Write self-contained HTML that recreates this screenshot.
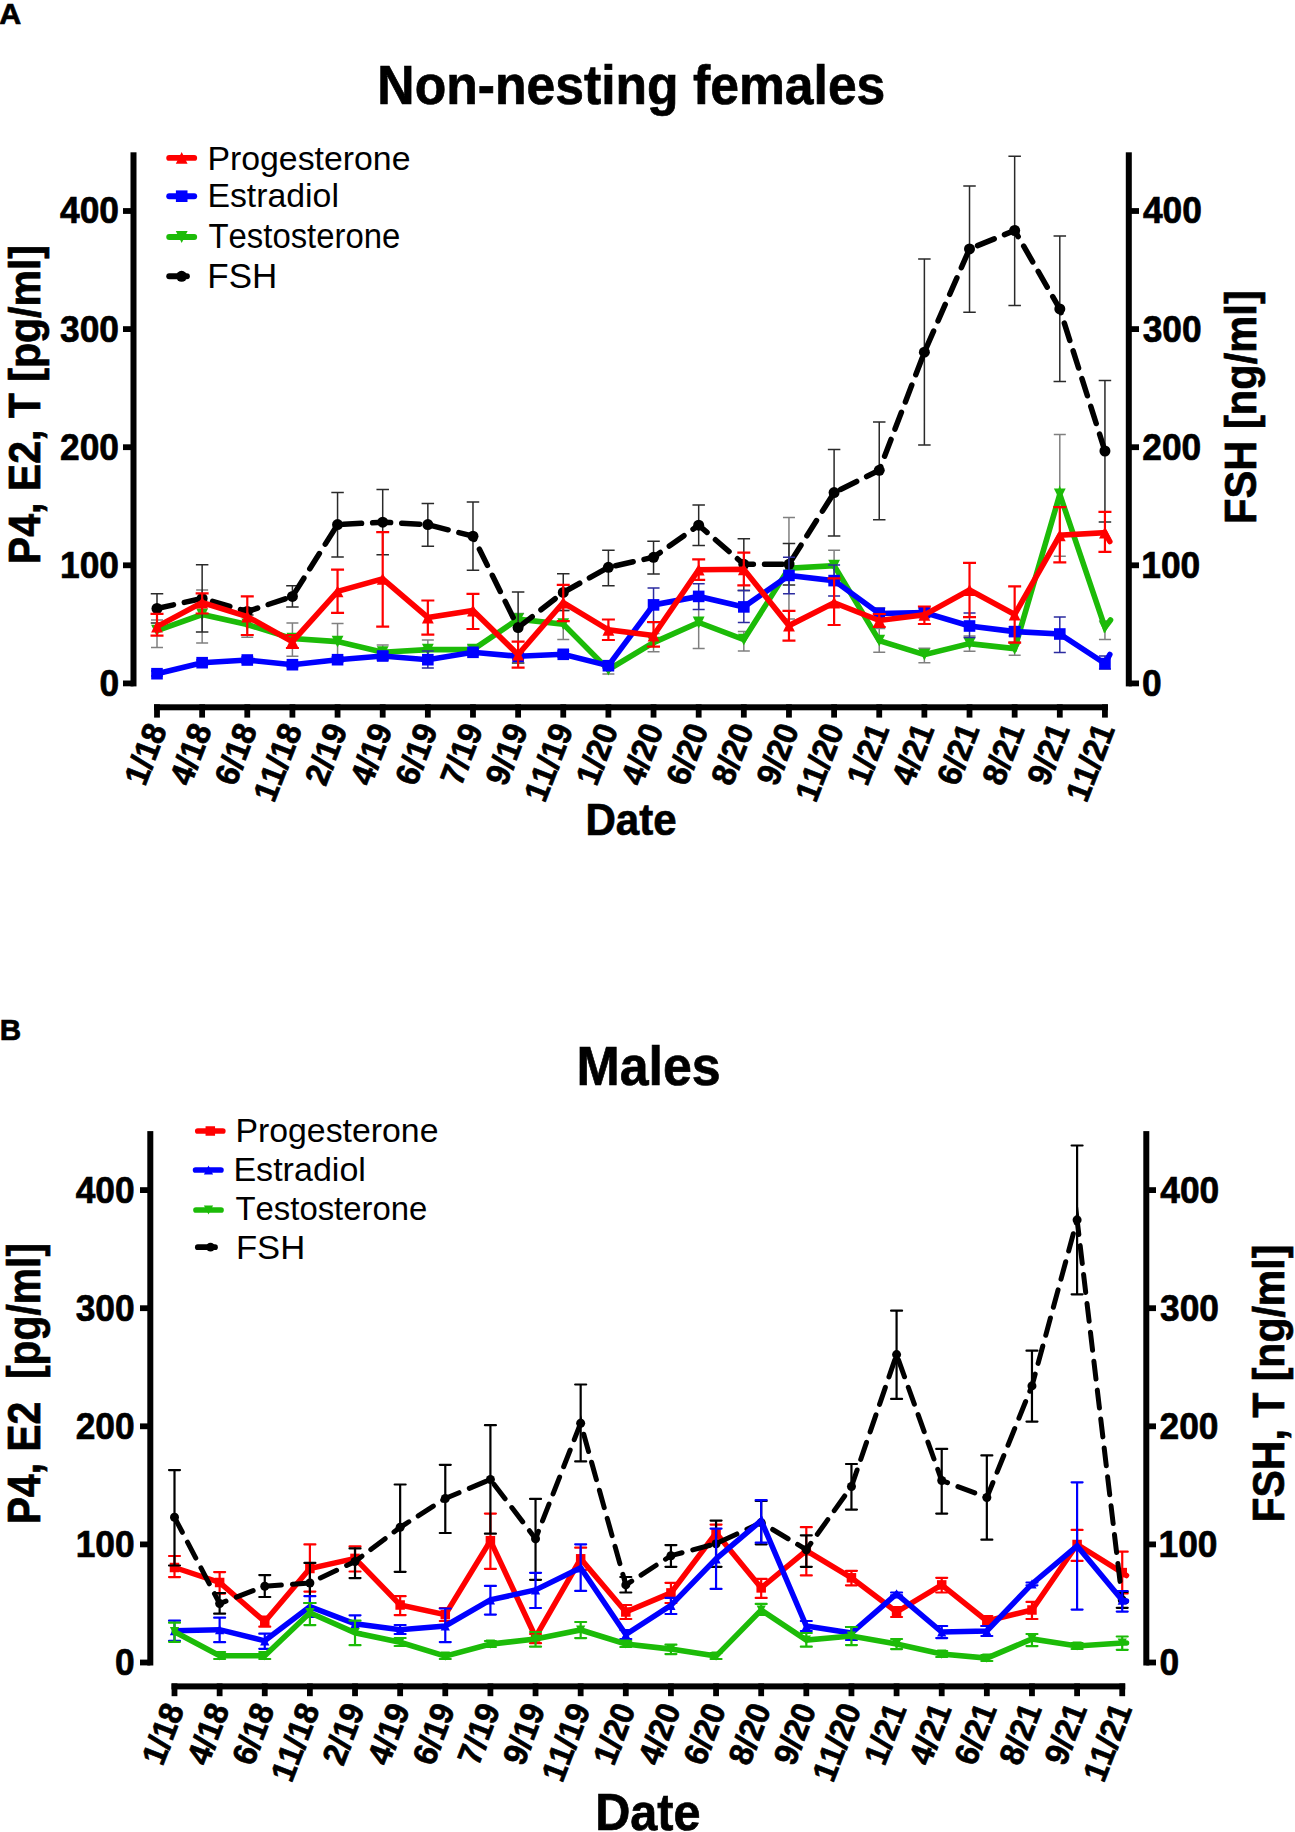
<!DOCTYPE html>
<html><head><meta charset="utf-8"><style>
html,body{margin:0;padding:0;background:#fff;}
svg{display:block;font-family:"Liberation Sans",sans-serif;}
text[font-weight="bold"]{stroke:#000;stroke-width:0.7px;}
text{font-kerning:none;}
</style></head><body>
<svg width="1295" height="1832" viewBox="0 0 1295 1832">
<rect width="1295" height="1832" fill="#fff"/>
<rect x="130.50" y="152.30" width="6" height="534.10" fill="#000"/>
<rect x="1125.80" y="152.30" width="6" height="534.10" fill="#000"/>
<rect x="123.00" y="680.50" width="10.50" height="5.8" fill="#000"/>
<rect x="1128.80" y="680.50" width="10.20" height="5.8" fill="#000"/>
<text xml:space="preserve" transform="translate(99.39,695.84) scale(0.9400,1)" font-size="37.60" font-weight="bold">0</text>
<text xml:space="preserve" transform="translate(1142.10,695.84) scale(0.9400,1)" font-size="37.60" font-weight="bold">0</text>
<rect x="123.00" y="562.40" width="10.50" height="5.8" fill="#000"/>
<rect x="1128.80" y="562.40" width="10.20" height="5.8" fill="#000"/>
<text xml:space="preserve" transform="translate(60.08,577.74) scale(0.9400,1)" font-size="37.60" font-weight="bold">100</text>
<text xml:space="preserve" transform="translate(1141.27,577.74) scale(0.9400,1)" font-size="37.60" font-weight="bold">100</text>
<rect x="123.00" y="444.30" width="10.50" height="5.8" fill="#000"/>
<rect x="1128.80" y="444.30" width="10.20" height="5.8" fill="#000"/>
<text xml:space="preserve" transform="translate(60.08,459.64) scale(0.9400,1)" font-size="37.60" font-weight="bold">200</text>
<text xml:space="preserve" transform="translate(1142.27,459.64) scale(0.9400,1)" font-size="37.60" font-weight="bold">200</text>
<rect x="123.00" y="326.20" width="10.50" height="5.8" fill="#000"/>
<rect x="1128.80" y="326.20" width="10.20" height="5.8" fill="#000"/>
<text xml:space="preserve" transform="translate(60.08,341.52) scale(0.9400,1)" font-size="37.60" font-weight="bold">300</text>
<text xml:space="preserve" transform="translate(1142.69,341.52) scale(0.9400,1)" font-size="37.60" font-weight="bold">300</text>
<rect x="123.00" y="208.10" width="10.50" height="5.8" fill="#000"/>
<rect x="1128.80" y="208.10" width="10.20" height="5.8" fill="#000"/>
<text xml:space="preserve" transform="translate(60.08,223.44) scale(0.9400,1)" font-size="37.60" font-weight="bold">400</text>
<text xml:space="preserve" transform="translate(1142.97,223.44) scale(0.9400,1)" font-size="37.60" font-weight="bold">400</text>
<rect x="154.00" y="704.30" width="953.94" height="6" fill="#000"/>
<rect x="154.10" y="704.30" width="5.8" height="13.30" fill="#000"/>
<text xml:space="preserve" transform="translate(156.60,725.00) rotate(-69) scale(1,1.04)" font-size="32.00" font-weight="bold" text-anchor="end" y="11.01">1/18</text>
<rect x="199.24" y="704.30" width="5.8" height="13.30" fill="#000"/>
<text xml:space="preserve" transform="translate(201.74,725.00) rotate(-69) scale(1,1.04)" font-size="32.00" font-weight="bold" text-anchor="end" y="11.01">4/18</text>
<rect x="244.38" y="704.30" width="5.8" height="13.30" fill="#000"/>
<text xml:space="preserve" transform="translate(246.88,725.00) rotate(-69) scale(1,1.04)" font-size="32.00" font-weight="bold" text-anchor="end" y="11.01">6/18</text>
<rect x="289.52" y="704.30" width="5.8" height="13.30" fill="#000"/>
<text xml:space="preserve" transform="translate(292.02,725.00) rotate(-69) scale(1,1.04)" font-size="32.00" font-weight="bold" text-anchor="end" y="11.01">11/18</text>
<rect x="334.66" y="704.30" width="5.8" height="13.30" fill="#000"/>
<text xml:space="preserve" transform="translate(337.16,725.00) rotate(-69) scale(1,1.04)" font-size="32.00" font-weight="bold" text-anchor="end" y="11.01">2/19</text>
<rect x="379.80" y="704.30" width="5.8" height="13.30" fill="#000"/>
<text xml:space="preserve" transform="translate(382.30,725.00) rotate(-69) scale(1,1.04)" font-size="32.00" font-weight="bold" text-anchor="end" y="11.01">4/19</text>
<rect x="424.94" y="704.30" width="5.8" height="13.30" fill="#000"/>
<text xml:space="preserve" transform="translate(427.44,725.00) rotate(-69) scale(1,1.04)" font-size="32.00" font-weight="bold" text-anchor="end" y="11.01">6/19</text>
<rect x="470.08" y="704.30" width="5.8" height="13.30" fill="#000"/>
<text xml:space="preserve" transform="translate(472.58,725.00) rotate(-69) scale(1,1.04)" font-size="32.00" font-weight="bold" text-anchor="end" y="11.01">7/19</text>
<rect x="515.22" y="704.30" width="5.8" height="13.30" fill="#000"/>
<text xml:space="preserve" transform="translate(517.72,725.00) rotate(-69) scale(1,1.04)" font-size="32.00" font-weight="bold" text-anchor="end" y="11.01">9/19</text>
<rect x="560.36" y="704.30" width="5.8" height="13.30" fill="#000"/>
<text xml:space="preserve" transform="translate(562.86,725.00) rotate(-69) scale(1,1.04)" font-size="32.00" font-weight="bold" text-anchor="end" y="11.01">11/19</text>
<rect x="605.50" y="704.30" width="5.8" height="13.30" fill="#000"/>
<text xml:space="preserve" transform="translate(608.00,725.00) rotate(-69) scale(1,1.04)" font-size="32.00" font-weight="bold" text-anchor="end" y="11.01">1/20</text>
<rect x="650.64" y="704.30" width="5.8" height="13.30" fill="#000"/>
<text xml:space="preserve" transform="translate(653.14,725.00) rotate(-69) scale(1,1.04)" font-size="32.00" font-weight="bold" text-anchor="end" y="11.01">4/20</text>
<rect x="695.78" y="704.30" width="5.8" height="13.30" fill="#000"/>
<text xml:space="preserve" transform="translate(698.28,725.00) rotate(-69) scale(1,1.04)" font-size="32.00" font-weight="bold" text-anchor="end" y="11.01">6/20</text>
<rect x="740.92" y="704.30" width="5.8" height="13.30" fill="#000"/>
<text xml:space="preserve" transform="translate(743.42,725.00) rotate(-69) scale(1,1.04)" font-size="32.00" font-weight="bold" text-anchor="end" y="11.01">8/20</text>
<rect x="786.06" y="704.30" width="5.8" height="13.30" fill="#000"/>
<text xml:space="preserve" transform="translate(788.56,725.00) rotate(-69) scale(1,1.04)" font-size="32.00" font-weight="bold" text-anchor="end" y="11.01">9/20</text>
<rect x="831.20" y="704.30" width="5.8" height="13.30" fill="#000"/>
<text xml:space="preserve" transform="translate(833.70,725.00) rotate(-69) scale(1,1.04)" font-size="32.00" font-weight="bold" text-anchor="end" y="11.01">11/20</text>
<rect x="876.34" y="704.30" width="5.8" height="13.30" fill="#000"/>
<text xml:space="preserve" transform="translate(878.84,725.00) rotate(-69) scale(1,1.04)" font-size="32.00" font-weight="bold" text-anchor="end" y="11.01">1/21</text>
<rect x="921.48" y="704.30" width="5.8" height="13.30" fill="#000"/>
<text xml:space="preserve" transform="translate(923.98,725.00) rotate(-69) scale(1,1.04)" font-size="32.00" font-weight="bold" text-anchor="end" y="11.01">4/21</text>
<rect x="966.62" y="704.30" width="5.8" height="13.30" fill="#000"/>
<text xml:space="preserve" transform="translate(969.12,725.00) rotate(-69) scale(1,1.04)" font-size="32.00" font-weight="bold" text-anchor="end" y="11.01">6/21</text>
<rect x="1011.76" y="704.30" width="5.8" height="13.30" fill="#000"/>
<text xml:space="preserve" transform="translate(1014.26,725.00) rotate(-69) scale(1,1.04)" font-size="32.00" font-weight="bold" text-anchor="end" y="11.01">8/21</text>
<rect x="1056.90" y="704.30" width="5.8" height="13.30" fill="#000"/>
<text xml:space="preserve" transform="translate(1059.40,725.00) rotate(-69) scale(1,1.04)" font-size="32.00" font-weight="bold" text-anchor="end" y="11.01">9/21</text>
<rect x="1102.04" y="704.30" width="5.8" height="13.30" fill="#000"/>
<text xml:space="preserve" transform="translate(1104.54,725.00) rotate(-69) scale(1,1.04)" font-size="32.00" font-weight="bold" text-anchor="end" y="11.01">11/21</text>
<rect x="147.30" y="1131.10" width="6" height="534.40" fill="#000"/>
<rect x="1143.30" y="1131.10" width="6" height="534.40" fill="#000"/>
<rect x="140.00" y="1659.60" width="10.30" height="5.8" fill="#000"/>
<rect x="1146.30" y="1659.60" width="9.70" height="5.8" fill="#000"/>
<text xml:space="preserve" transform="translate(114.99,1674.94) scale(0.9400,1)" font-size="37.60" font-weight="bold">0</text>
<text xml:space="preserve" transform="translate(1159.40,1674.94) scale(0.9400,1)" font-size="37.60" font-weight="bold">0</text>
<rect x="140.00" y="1541.50" width="10.30" height="5.8" fill="#000"/>
<rect x="1146.30" y="1541.50" width="9.70" height="5.8" fill="#000"/>
<text xml:space="preserve" transform="translate(75.68,1556.84) scale(0.9400,1)" font-size="37.60" font-weight="bold">100</text>
<text xml:space="preserve" transform="translate(1158.57,1556.84) scale(0.9400,1)" font-size="37.60" font-weight="bold">100</text>
<rect x="140.00" y="1423.40" width="10.30" height="5.8" fill="#000"/>
<rect x="1146.30" y="1423.40" width="9.70" height="5.8" fill="#000"/>
<text xml:space="preserve" transform="translate(75.68,1438.74) scale(0.9400,1)" font-size="37.60" font-weight="bold">200</text>
<text xml:space="preserve" transform="translate(1159.57,1438.74) scale(0.9400,1)" font-size="37.60" font-weight="bold">200</text>
<rect x="140.00" y="1305.30" width="10.30" height="5.8" fill="#000"/>
<rect x="1146.30" y="1305.30" width="9.70" height="5.8" fill="#000"/>
<text xml:space="preserve" transform="translate(75.68,1320.62) scale(0.9400,1)" font-size="37.60" font-weight="bold">300</text>
<text xml:space="preserve" transform="translate(1159.99,1320.62) scale(0.9400,1)" font-size="37.60" font-weight="bold">300</text>
<rect x="140.00" y="1187.20" width="10.30" height="5.8" fill="#000"/>
<rect x="1146.30" y="1187.20" width="9.70" height="5.8" fill="#000"/>
<text xml:space="preserve" transform="translate(75.68,1202.54) scale(0.9400,1)" font-size="37.60" font-weight="bold">400</text>
<text xml:space="preserve" transform="translate(1160.27,1202.54) scale(0.9400,1)" font-size="37.60" font-weight="bold">400</text>
<rect x="171.50" y="1683.40" width="953.73" height="6" fill="#000"/>
<rect x="171.60" y="1683.40" width="5.8" height="12.80" fill="#000"/>
<text xml:space="preserve" transform="translate(174.00,1704.80) rotate(-69) scale(1,1.04)" font-size="32.00" font-weight="bold" text-anchor="end" y="11.01">1/18</text>
<rect x="216.73" y="1683.40" width="5.8" height="12.80" fill="#000"/>
<text xml:space="preserve" transform="translate(219.13,1704.80) rotate(-69) scale(1,1.04)" font-size="32.00" font-weight="bold" text-anchor="end" y="11.01">4/18</text>
<rect x="261.86" y="1683.40" width="5.8" height="12.80" fill="#000"/>
<text xml:space="preserve" transform="translate(264.26,1704.80) rotate(-69) scale(1,1.04)" font-size="32.00" font-weight="bold" text-anchor="end" y="11.01">6/18</text>
<rect x="306.99" y="1683.40" width="5.8" height="12.80" fill="#000"/>
<text xml:space="preserve" transform="translate(309.39,1704.80) rotate(-69) scale(1,1.04)" font-size="32.00" font-weight="bold" text-anchor="end" y="11.01">11/18</text>
<rect x="352.12" y="1683.40" width="5.8" height="12.80" fill="#000"/>
<text xml:space="preserve" transform="translate(354.52,1704.80) rotate(-69) scale(1,1.04)" font-size="32.00" font-weight="bold" text-anchor="end" y="11.01">2/19</text>
<rect x="397.25" y="1683.40" width="5.8" height="12.80" fill="#000"/>
<text xml:space="preserve" transform="translate(399.65,1704.80) rotate(-69) scale(1,1.04)" font-size="32.00" font-weight="bold" text-anchor="end" y="11.01">4/19</text>
<rect x="442.38" y="1683.40" width="5.8" height="12.80" fill="#000"/>
<text xml:space="preserve" transform="translate(444.78,1704.80) rotate(-69) scale(1,1.04)" font-size="32.00" font-weight="bold" text-anchor="end" y="11.01">6/19</text>
<rect x="487.51" y="1683.40" width="5.8" height="12.80" fill="#000"/>
<text xml:space="preserve" transform="translate(489.91,1704.80) rotate(-69) scale(1,1.04)" font-size="32.00" font-weight="bold" text-anchor="end" y="11.01">7/19</text>
<rect x="532.64" y="1683.40" width="5.8" height="12.80" fill="#000"/>
<text xml:space="preserve" transform="translate(535.04,1704.80) rotate(-69) scale(1,1.04)" font-size="32.00" font-weight="bold" text-anchor="end" y="11.01">9/19</text>
<rect x="577.77" y="1683.40" width="5.8" height="12.80" fill="#000"/>
<text xml:space="preserve" transform="translate(580.17,1704.80) rotate(-69) scale(1,1.04)" font-size="32.00" font-weight="bold" text-anchor="end" y="11.01">11/19</text>
<rect x="622.90" y="1683.40" width="5.8" height="12.80" fill="#000"/>
<text xml:space="preserve" transform="translate(625.30,1704.80) rotate(-69) scale(1,1.04)" font-size="32.00" font-weight="bold" text-anchor="end" y="11.01">1/20</text>
<rect x="668.03" y="1683.40" width="5.8" height="12.80" fill="#000"/>
<text xml:space="preserve" transform="translate(670.43,1704.80) rotate(-69) scale(1,1.04)" font-size="32.00" font-weight="bold" text-anchor="end" y="11.01">4/20</text>
<rect x="713.16" y="1683.40" width="5.8" height="12.80" fill="#000"/>
<text xml:space="preserve" transform="translate(715.56,1704.80) rotate(-69) scale(1,1.04)" font-size="32.00" font-weight="bold" text-anchor="end" y="11.01">6/20</text>
<rect x="758.29" y="1683.40" width="5.8" height="12.80" fill="#000"/>
<text xml:space="preserve" transform="translate(760.69,1704.80) rotate(-69) scale(1,1.04)" font-size="32.00" font-weight="bold" text-anchor="end" y="11.01">8/20</text>
<rect x="803.42" y="1683.40" width="5.8" height="12.80" fill="#000"/>
<text xml:space="preserve" transform="translate(805.82,1704.80) rotate(-69) scale(1,1.04)" font-size="32.00" font-weight="bold" text-anchor="end" y="11.01">9/20</text>
<rect x="848.55" y="1683.40" width="5.8" height="12.80" fill="#000"/>
<text xml:space="preserve" transform="translate(850.95,1704.80) rotate(-69) scale(1,1.04)" font-size="32.00" font-weight="bold" text-anchor="end" y="11.01">11/20</text>
<rect x="893.68" y="1683.40" width="5.8" height="12.80" fill="#000"/>
<text xml:space="preserve" transform="translate(896.08,1704.80) rotate(-69) scale(1,1.04)" font-size="32.00" font-weight="bold" text-anchor="end" y="11.01">1/21</text>
<rect x="938.81" y="1683.40" width="5.8" height="12.80" fill="#000"/>
<text xml:space="preserve" transform="translate(941.21,1704.80) rotate(-69) scale(1,1.04)" font-size="32.00" font-weight="bold" text-anchor="end" y="11.01">4/21</text>
<rect x="983.94" y="1683.40" width="5.8" height="12.80" fill="#000"/>
<text xml:space="preserve" transform="translate(986.34,1704.80) rotate(-69) scale(1,1.04)" font-size="32.00" font-weight="bold" text-anchor="end" y="11.01">6/21</text>
<rect x="1029.07" y="1683.40" width="5.8" height="12.80" fill="#000"/>
<text xml:space="preserve" transform="translate(1031.47,1704.80) rotate(-69) scale(1,1.04)" font-size="32.00" font-weight="bold" text-anchor="end" y="11.01">8/21</text>
<rect x="1074.20" y="1683.40" width="5.8" height="12.80" fill="#000"/>
<text xml:space="preserve" transform="translate(1076.60,1704.80) rotate(-69) scale(1,1.04)" font-size="32.00" font-weight="bold" text-anchor="end" y="11.01">9/21</text>
<rect x="1119.33" y="1683.40" width="5.8" height="12.80" fill="#000"/>
<text xml:space="preserve" transform="translate(1121.73,1704.80) rotate(-69) scale(1,1.04)" font-size="32.00" font-weight="bold" text-anchor="end" y="11.01">11/21</text>
<path d="M157.00,620.00V647.60M151.00,620.00H163.00M151.00,647.60H163.00M202.14,590.00V643.00M196.14,590.00H208.14M196.14,643.00H208.14M247.28,612.00V637.20M241.28,612.00H253.28M241.28,637.20H253.28M292.42,623.00V656.30M286.42,623.00H298.42M286.42,656.30H298.42M337.56,623.50V659.70M331.56,623.50H343.56M331.56,659.70H343.56M382.70,645.00V659.00M376.70,645.00H388.70M376.70,659.00H388.70M427.84,640.00V659.00M421.84,640.00H433.84M421.84,659.00H433.84M472.98,645.00V654.00M466.98,645.00H478.98M466.98,654.00H478.98M518.12,613.50V625.00M512.12,613.50H524.12M512.12,625.00H524.12M563.26,610.50V639.60M557.26,610.50H569.26M557.26,639.60H569.26M608.40,665.00V674.00M602.40,665.00H614.40M602.40,674.00H614.40M653.54,633.50V651.70M647.54,633.50H659.54M647.54,651.70H659.54M698.68,596.40V648.60M692.68,596.40H704.68M692.68,648.60H704.68M743.82,631.60V651.00M737.82,631.60H749.82M737.82,651.00H749.82M788.96,517.50V619.00M782.96,517.50H794.96M782.96,619.00H794.96M834.10,550.30V581.00M828.10,550.30H840.10M828.10,581.00H840.10M879.24,628.60V652.30M873.24,628.60H885.24M873.24,652.30H885.24M924.38,648.20V662.70M918.38,648.20H930.38M918.38,662.70H930.38M969.52,636.00V651.30M963.52,636.00H975.52M963.52,651.30H975.52M1014.66,642.00V655.30M1008.66,642.00H1020.66M1008.66,655.30H1020.66M1059.80,434.40V556.20M1053.80,434.40H1065.80M1053.80,556.20H1065.80M1104.94,620.90V639.40M1098.94,620.90H1110.94M1098.94,639.40H1110.94" stroke="#808080" stroke-width="1.5" fill="none" stroke-linecap="butt"/>
<polyline points="157.00,630.60 202.14,614.50 247.28,624.50 292.42,638.60 337.56,641.60 382.70,652.20 427.84,649.60 472.98,649.60 518.12,619.10 563.26,624.10 608.40,669.70 653.54,642.60 698.68,622.50 743.82,639.60 788.96,568.30 834.10,565.60 879.24,640.60 924.38,654.70 969.52,643.60 1014.66,648.60 1059.80,494.40 1104.94,627.40 1110.50,620.00" stroke="#1cbb08" stroke-width="5.6" fill="none" stroke-linejoin="miter" stroke-miterlimit="10" stroke-linecap="round"/>
<path d="M151.10,624.70L162.90,624.70L157.00,636.50Z" fill="#1cbb08"/><path d="M196.24,608.60L208.04,608.60L202.14,620.40Z" fill="#1cbb08"/><path d="M241.38,618.60L253.18,618.60L247.28,630.40Z" fill="#1cbb08"/><path d="M286.52,632.70L298.32,632.70L292.42,644.50Z" fill="#1cbb08"/><path d="M331.66,635.70L343.46,635.70L337.56,647.50Z" fill="#1cbb08"/><path d="M376.80,646.30L388.60,646.30L382.70,658.10Z" fill="#1cbb08"/><path d="M421.94,643.70L433.74,643.70L427.84,655.50Z" fill="#1cbb08"/><path d="M467.08,643.70L478.88,643.70L472.98,655.50Z" fill="#1cbb08"/><path d="M512.22,613.20L524.02,613.20L518.12,625.00Z" fill="#1cbb08"/><path d="M557.36,618.20L569.16,618.20L563.26,630.00Z" fill="#1cbb08"/><path d="M602.50,663.80L614.30,663.80L608.40,675.60Z" fill="#1cbb08"/><path d="M647.64,636.70L659.44,636.70L653.54,648.50Z" fill="#1cbb08"/><path d="M692.78,616.60L704.58,616.60L698.68,628.40Z" fill="#1cbb08"/><path d="M737.92,633.70L749.72,633.70L743.82,645.50Z" fill="#1cbb08"/><path d="M783.06,562.40L794.86,562.40L788.96,574.20Z" fill="#1cbb08"/><path d="M828.20,559.70L840.00,559.70L834.10,571.50Z" fill="#1cbb08"/><path d="M873.34,634.70L885.14,634.70L879.24,646.50Z" fill="#1cbb08"/><path d="M918.48,648.80L930.28,648.80L924.38,660.60Z" fill="#1cbb08"/><path d="M963.62,637.70L975.42,637.70L969.52,649.50Z" fill="#1cbb08"/><path d="M1008.76,642.70L1020.56,642.70L1014.66,654.50Z" fill="#1cbb08"/><path d="M1053.90,488.50L1065.70,488.50L1059.80,500.30Z" fill="#1cbb08"/><path d="M1099.04,621.50L1110.84,621.50L1104.94,633.30Z" fill="#1cbb08"/>
<path d="M157.00,593.80V623.00M150.75,593.80H163.25M150.75,623.00H163.25M202.14,564.70V632.00M195.89,564.70H208.39M195.89,632.00H208.39M247.28,607.90V615.10M241.03,607.90H253.53M241.03,615.10H253.53M292.42,585.80V607.10M286.17,585.80H298.67M286.17,607.10H298.67M337.56,492.60V556.90M331.31,492.60H343.81M331.31,556.90H343.81M382.70,489.40V554.70M376.45,489.40H388.95M376.45,554.70H388.95M427.84,503.50V546.30M421.59,503.50H434.09M421.59,546.30H434.09M472.98,502.10V570.30M466.73,502.10H479.23M466.73,570.30H479.23M518.12,592.00V663.00M511.87,592.00H524.37M511.87,663.00H524.37M563.26,573.80V610.50M557.01,573.80H569.51M557.01,610.50H569.51M608.40,550.30V585.80M602.15,550.30H614.65M602.15,585.80H614.65M653.54,541.20V574.00M647.29,541.20H659.79M647.29,574.00H659.79M698.68,505.10V545.60M692.43,505.10H704.93M692.43,545.60H704.93M743.82,538.80V590.40M737.57,538.80H750.07M737.57,590.40H750.07M788.96,543.50V585.00M782.71,543.50H795.21M782.71,585.00H795.21M834.10,449.50V536.00M827.85,449.50H840.35M827.85,536.00H840.35M879.24,421.90V519.70M872.99,421.90H885.49M872.99,519.70H885.49M924.38,258.90V444.90M918.13,258.90H930.63M918.13,444.90H930.63M969.52,185.90V312.20M963.27,185.90H975.77M963.27,312.20H975.77M1014.66,156.20V305.40M1008.41,156.20H1020.91M1008.41,305.40H1020.91M1059.80,235.90V381.40M1053.55,235.90H1066.05M1053.55,381.40H1066.05M1104.94,380.50V522.00M1098.69,380.50H1111.19M1098.69,522.00H1111.19" stroke="#2a2a2a" stroke-width="1.5" fill="none" stroke-linecap="butt"/>
<polyline points="157.00,608.50 202.14,598.40 247.28,611.50 292.42,596.40 337.56,524.60 382.70,522.20 427.84,524.60 472.98,536.20 518.12,627.60 563.26,592.40 608.40,567.30 653.54,557.30 698.68,525.20 743.82,564.30 788.96,564.30 834.10,492.60 879.24,470.30 924.38,352.20 969.52,248.90 1014.66,230.50 1059.80,308.90 1104.94,451.00 1109.50,455.00" stroke="#000" stroke-width="5.5" fill="none" stroke-linejoin="miter" stroke-miterlimit="10" stroke-linecap="round" stroke-dasharray="18 11.1" stroke-dashoffset="1.1"/>
<circle cx="157.00" cy="608.50" r="5.50" fill="#000"/><circle cx="202.14" cy="598.40" r="5.50" fill="#000"/><circle cx="247.28" cy="611.50" r="5.50" fill="#000"/><circle cx="292.42" cy="596.40" r="5.50" fill="#000"/><circle cx="337.56" cy="524.60" r="5.50" fill="#000"/><circle cx="382.70" cy="522.20" r="5.50" fill="#000"/><circle cx="427.84" cy="524.60" r="5.50" fill="#000"/><circle cx="472.98" cy="536.20" r="5.50" fill="#000"/><circle cx="518.12" cy="627.60" r="5.50" fill="#000"/><circle cx="563.26" cy="592.40" r="5.50" fill="#000"/><circle cx="608.40" cy="567.30" r="5.50" fill="#000"/><circle cx="653.54" cy="557.30" r="5.50" fill="#000"/><circle cx="698.68" cy="525.20" r="5.50" fill="#000"/><circle cx="743.82" cy="564.30" r="5.50" fill="#000"/><circle cx="788.96" cy="564.30" r="5.50" fill="#000"/><circle cx="834.10" cy="492.60" r="5.50" fill="#000"/><circle cx="879.24" cy="470.30" r="5.50" fill="#000"/><circle cx="924.38" cy="352.20" r="5.50" fill="#000"/><circle cx="969.52" cy="248.90" r="5.50" fill="#000"/><circle cx="1014.66" cy="230.50" r="5.50" fill="#000"/><circle cx="1059.80" cy="308.90" r="5.50" fill="#000"/><circle cx="1104.94" cy="451.00" r="5.50" fill="#000"/>
<path d="M157.00,671.00V676.00M151.00,671.00H163.00M151.00,676.00H163.00M202.14,660.00V665.00M196.14,660.00H208.14M196.14,665.00H208.14M247.28,657.00V663.00M241.28,657.00H253.28M241.28,663.00H253.28M292.42,662.00V667.00M286.42,662.00H298.42M286.42,667.00H298.42M337.56,657.00V662.00M331.56,657.00H343.56M331.56,662.00H343.56M382.70,652.00V660.00M376.70,652.00H388.70M376.70,660.00H388.70M427.84,651.00V668.00M421.84,651.00H433.84M421.84,668.00H433.84M472.98,649.00V655.00M466.98,649.00H478.98M466.98,655.00H478.98M518.12,653.00V659.00M512.12,653.00H524.12M512.12,659.00H524.12M563.26,651.00V657.00M557.26,651.00H569.26M557.26,657.00H569.26M608.40,663.00V668.00M602.40,663.00H614.40M602.40,668.00H614.40M653.54,588.00V622.50M647.54,588.00H659.54M647.54,622.50H659.54M698.68,583.80V609.50M692.68,583.80H704.68M692.68,609.50H704.68M743.82,590.40V622.50M737.82,590.40H749.82M737.82,622.50H749.82M788.96,557.30V593.80M782.96,557.30H794.96M782.96,593.80H794.96M834.10,565.00V596.00M828.10,565.00H840.10M828.10,596.00H840.10M879.24,608.00V619.00M873.24,608.00H885.24M873.24,619.00H885.24M924.38,608.00V617.00M918.38,608.00H930.38M918.38,617.00H930.38M969.52,612.90V637.60M963.52,612.90H975.52M963.52,637.60H975.52M1014.66,627.00V636.00M1008.66,627.00H1020.66M1008.66,636.00H1020.66M1059.80,617.10V652.50M1053.80,617.10H1065.80M1053.80,652.50H1065.80M1104.94,656.10V669.10M1098.94,656.10H1110.94M1098.94,669.10H1110.94" stroke="#2b2ba0" stroke-width="1.5" fill="none" stroke-linecap="butt"/>
<polyline points="157.00,673.70 202.14,662.70 247.28,660.00 292.42,664.70 337.56,659.70 382.70,656.00 427.84,659.70 472.98,652.30 518.12,656.30 563.26,654.30 608.40,665.70 653.54,604.90 698.68,596.40 743.82,606.90 788.96,575.40 834.10,580.60 879.24,613.50 924.38,612.50 969.52,626.00 1014.66,631.60 1059.80,634.00 1104.94,663.60 1109.80,654.50" stroke="#0000ff" stroke-width="5.6" fill="none" stroke-linejoin="miter" stroke-miterlimit="10" stroke-linecap="round"/>
<rect x="151.20" y="667.90" width="11.60" height="11.60" fill="#0000ff"/><rect x="196.34" y="656.90" width="11.60" height="11.60" fill="#0000ff"/><rect x="241.48" y="654.20" width="11.60" height="11.60" fill="#0000ff"/><rect x="286.62" y="658.90" width="11.60" height="11.60" fill="#0000ff"/><rect x="331.76" y="653.90" width="11.60" height="11.60" fill="#0000ff"/><rect x="376.90" y="650.20" width="11.60" height="11.60" fill="#0000ff"/><rect x="422.04" y="653.90" width="11.60" height="11.60" fill="#0000ff"/><rect x="467.18" y="646.50" width="11.60" height="11.60" fill="#0000ff"/><rect x="512.32" y="650.50" width="11.60" height="11.60" fill="#0000ff"/><rect x="557.46" y="648.50" width="11.60" height="11.60" fill="#0000ff"/><rect x="602.60" y="659.90" width="11.60" height="11.60" fill="#0000ff"/><rect x="647.74" y="599.10" width="11.60" height="11.60" fill="#0000ff"/><rect x="692.88" y="590.60" width="11.60" height="11.60" fill="#0000ff"/><rect x="738.02" y="601.10" width="11.60" height="11.60" fill="#0000ff"/><rect x="783.16" y="569.60" width="11.60" height="11.60" fill="#0000ff"/><rect x="828.30" y="574.80" width="11.60" height="11.60" fill="#0000ff"/><rect x="873.44" y="607.70" width="11.60" height="11.60" fill="#0000ff"/><rect x="918.58" y="606.70" width="11.60" height="11.60" fill="#0000ff"/><rect x="963.72" y="620.20" width="11.60" height="11.60" fill="#0000ff"/><rect x="1008.86" y="625.80" width="11.60" height="11.60" fill="#0000ff"/><rect x="1054.00" y="628.20" width="11.60" height="11.60" fill="#0000ff"/><rect x="1099.14" y="657.80" width="11.60" height="11.60" fill="#0000ff"/>
<path d="M157.00,613.90V635.60M150.50,613.90H163.50M150.50,635.60H163.50M202.14,593.40V613.50M195.64,593.40H208.64M195.64,613.50H208.64M247.28,596.40V635.00M240.78,596.40H253.78M240.78,635.00H253.78M292.42,635.00V648.00M285.92,635.00H298.92M285.92,648.00H298.92M337.56,569.70V612.90M331.06,569.70H344.06M331.06,612.90H344.06M382.70,532.20V626.60M376.20,532.20H389.20M376.20,626.60H389.20M427.84,600.50V634.60M421.34,600.50H434.34M421.34,634.60H434.34M472.98,593.80V629.00M466.48,593.80H479.48M466.48,629.00H479.48M518.12,641.60V667.70M511.62,641.60H524.62M511.62,667.70H524.62M563.26,584.80V621.10M556.76,584.80H569.76M556.76,621.10H569.76M608.40,619.50V640.00M601.90,619.50H614.90M601.90,640.00H614.90M653.54,622.00V646.60M647.04,622.00H660.04M647.04,646.60H660.04M698.68,559.30V579.80M692.18,559.30H705.18M692.18,579.80H705.18M743.82,552.70V585.40M737.32,552.70H750.32M737.32,585.40H750.32M788.96,610.90V640.60M782.46,610.90H795.46M782.46,640.60H795.46M834.10,578.40V625.00M827.60,578.40H840.60M827.60,625.00H840.60M879.24,614.00V627.00M872.74,614.00H885.74M872.74,627.00H885.74M924.38,606.50V624.00M917.88,606.50H930.88M917.88,624.00H930.88M969.52,562.90V617.10M963.02,562.90H976.02M963.02,617.10H976.02M1014.66,586.40V642.60M1008.16,586.40H1021.16M1008.16,642.60H1021.16M1059.80,507.20V562.40M1053.30,507.20H1066.30M1053.30,562.40H1066.30M1104.94,511.90V551.80M1098.44,511.90H1111.44M1098.44,551.80H1111.44" stroke="#ff0000" stroke-width="2.2" fill="none" stroke-linecap="butt"/>
<polyline points="157.00,626.60 202.14,602.50 247.28,616.50 292.42,641.60 337.56,591.40 382.70,578.80 427.84,617.50 472.98,610.50 518.12,654.70 563.26,602.50 608.40,629.90 653.54,635.60 698.68,569.70 743.82,569.30 788.96,625.60 834.10,602.70 879.24,620.50 924.38,614.90 969.52,590.00 1014.66,614.50 1059.80,535.30 1104.94,532.70 1109.80,541.50" stroke="#ff0000" stroke-width="5.6" fill="none" stroke-linejoin="miter" stroke-miterlimit="10" stroke-linecap="round"/>
<path d="M157.00,620.70L162.90,632.50L151.10,632.50Z" fill="#ff0000"/><path d="M202.14,596.60L208.04,608.40L196.24,608.40Z" fill="#ff0000"/><path d="M247.28,610.60L253.18,622.40L241.38,622.40Z" fill="#ff0000"/><path d="M292.42,635.70L298.32,647.50L286.52,647.50Z" fill="#ff0000"/><path d="M337.56,585.50L343.46,597.30L331.66,597.30Z" fill="#ff0000"/><path d="M382.70,572.90L388.60,584.70L376.80,584.70Z" fill="#ff0000"/><path d="M427.84,611.60L433.74,623.40L421.94,623.40Z" fill="#ff0000"/><path d="M472.98,604.60L478.88,616.40L467.08,616.40Z" fill="#ff0000"/><path d="M518.12,648.80L524.02,660.60L512.22,660.60Z" fill="#ff0000"/><path d="M563.26,596.60L569.16,608.40L557.36,608.40Z" fill="#ff0000"/><path d="M608.40,624.00L614.30,635.80L602.50,635.80Z" fill="#ff0000"/><path d="M653.54,629.70L659.44,641.50L647.64,641.50Z" fill="#ff0000"/><path d="M698.68,563.80L704.58,575.60L692.78,575.60Z" fill="#ff0000"/><path d="M743.82,563.40L749.72,575.20L737.92,575.20Z" fill="#ff0000"/><path d="M788.96,619.70L794.86,631.50L783.06,631.50Z" fill="#ff0000"/><path d="M834.10,596.80L840.00,608.60L828.20,608.60Z" fill="#ff0000"/><path d="M879.24,614.60L885.14,626.40L873.34,626.40Z" fill="#ff0000"/><path d="M924.38,609.00L930.28,620.80L918.48,620.80Z" fill="#ff0000"/><path d="M969.52,584.10L975.42,595.90L963.62,595.90Z" fill="#ff0000"/><path d="M1014.66,608.60L1020.56,620.40L1008.76,620.40Z" fill="#ff0000"/><path d="M1059.80,529.40L1065.70,541.20L1053.90,541.20Z" fill="#ff0000"/><path d="M1104.94,526.80L1110.84,538.60L1099.04,538.60Z" fill="#ff0000"/>
<path d="M174.50,1556.00V1577.10M169.00,1556.00H180.00M169.00,1577.10H180.00M219.63,1572.10V1593.60M214.13,1572.10H225.13M214.13,1593.60H225.13M264.76,1616.70V1626.70M259.26,1616.70H270.26M259.26,1626.70H270.26M309.89,1544.40V1591.60M304.39,1544.40H315.39M304.39,1591.60H315.39M355.02,1546.40V1571.50M349.52,1546.40H360.52M349.52,1571.50H360.52M400.15,1596.20V1615.10M394.65,1596.20H405.65M394.65,1615.10H405.65M445.28,1608.00V1621.00M439.78,1608.00H450.78M439.78,1621.00H450.78M490.41,1513.60V1568.80M484.91,1513.60H495.91M484.91,1568.80H495.91M535.54,1634.00V1643.20M530.04,1634.00H541.04M530.04,1643.20H541.04M580.67,1547.70V1570.00M575.17,1547.70H586.17M575.17,1570.00H586.17M625.80,1605.00V1619.00M620.30,1605.00H631.30M620.30,1619.00H631.30M670.93,1582.80V1603.00M665.43,1582.80H676.43M665.43,1603.00H676.43M716.06,1524.60V1541.00M710.56,1524.60H721.56M710.56,1541.00H721.56M761.19,1578.80V1597.90M755.69,1578.80H766.69M755.69,1597.90H766.69M806.32,1527.20V1575.40M800.82,1527.20H811.82M800.82,1575.40H811.82M851.45,1570.80V1585.30M845.95,1570.80H856.95M845.95,1585.30H856.95M896.58,1607.00V1617.00M891.08,1607.00H902.08M891.08,1617.00H902.08M941.71,1577.80V1592.50M936.21,1577.80H947.21M936.21,1592.50H947.21M986.84,1616.00V1626.00M981.34,1616.00H992.34M981.34,1626.00H992.34M1031.97,1601.90V1619.00M1026.47,1601.90H1037.47M1026.47,1619.00H1037.47M1077.10,1529.90V1560.90M1071.60,1529.90H1082.60M1071.60,1560.90H1082.60M1122.23,1551.70V1593.50M1116.73,1551.70H1127.73M1116.73,1593.50H1127.73" stroke="#ff0000" stroke-width="2.2" fill="none" stroke-linecap="round"/>
<polyline points="174.50,1567.50 219.63,1582.50 264.76,1621.70 309.89,1568.50 355.02,1558.40 400.15,1605.00 445.28,1614.60 490.41,1540.70 535.54,1637.00 580.67,1558.80 625.80,1612.00 670.93,1592.90 716.06,1533.00 761.19,1587.90 806.32,1550.70 851.45,1577.80 896.58,1612.00 941.71,1584.90 986.84,1621.00 1031.97,1610.00 1077.10,1544.50 1122.23,1572.60 1126.50,1575.50" stroke="#ff0000" stroke-width="5.5" fill="none" stroke-linejoin="miter" stroke-miterlimit="10" stroke-linecap="round"/>
<rect x="169.75" y="1562.75" width="9.50" height="9.50" fill="#ff0000"/><rect x="214.88" y="1577.75" width="9.50" height="9.50" fill="#ff0000"/><rect x="260.01" y="1616.95" width="9.50" height="9.50" fill="#ff0000"/><rect x="305.14" y="1563.75" width="9.50" height="9.50" fill="#ff0000"/><rect x="350.27" y="1553.65" width="9.50" height="9.50" fill="#ff0000"/><rect x="395.40" y="1600.25" width="9.50" height="9.50" fill="#ff0000"/><rect x="440.53" y="1609.85" width="9.50" height="9.50" fill="#ff0000"/><rect x="485.66" y="1535.95" width="9.50" height="9.50" fill="#ff0000"/><rect x="530.79" y="1632.25" width="9.50" height="9.50" fill="#ff0000"/><rect x="575.92" y="1554.05" width="9.50" height="9.50" fill="#ff0000"/><rect x="621.05" y="1607.25" width="9.50" height="9.50" fill="#ff0000"/><rect x="666.18" y="1588.15" width="9.50" height="9.50" fill="#ff0000"/><rect x="711.31" y="1528.25" width="9.50" height="9.50" fill="#ff0000"/><rect x="756.44" y="1583.15" width="9.50" height="9.50" fill="#ff0000"/><rect x="801.57" y="1545.95" width="9.50" height="9.50" fill="#ff0000"/><rect x="846.70" y="1573.05" width="9.50" height="9.50" fill="#ff0000"/><rect x="891.83" y="1607.25" width="9.50" height="9.50" fill="#ff0000"/><rect x="936.96" y="1580.15" width="9.50" height="9.50" fill="#ff0000"/><rect x="982.09" y="1616.25" width="9.50" height="9.50" fill="#ff0000"/><rect x="1027.22" y="1605.25" width="9.50" height="9.50" fill="#ff0000"/><rect x="1072.35" y="1539.75" width="9.50" height="9.50" fill="#ff0000"/><rect x="1117.48" y="1567.85" width="9.50" height="9.50" fill="#ff0000"/>
<path d="M174.50,1470.10V1565.50M169.00,1470.10H180.00M169.00,1565.50H180.00M219.63,1593.00V1613.70M214.13,1593.00H225.13M214.13,1613.70H225.13M264.76,1575.10V1597.00M259.26,1575.10H270.26M259.26,1597.00H270.26M309.89,1562.90V1603.00M304.39,1562.90H315.39M304.39,1603.00H315.39M355.02,1548.40V1578.10M349.52,1548.40H360.52M349.52,1578.10H360.52M400.15,1484.50V1571.80M394.65,1484.50H405.65M394.65,1571.80H405.65M445.28,1464.80V1533.00M439.78,1464.80H450.78M439.78,1533.00H450.78M490.41,1425.20V1533.70M484.91,1425.20H495.91M484.91,1533.70H495.91M535.54,1498.90V1579.80M530.04,1498.90H541.04M530.04,1579.80H541.04M580.67,1384.50V1461.40M575.17,1384.50H586.17M575.17,1461.40H586.17M625.80,1577.00V1592.50M620.30,1577.00H631.30M620.30,1592.50H631.30M670.93,1545.10V1566.80M665.43,1545.10H676.43M665.43,1566.80H676.43M716.06,1520.60V1566.80M710.56,1520.60H721.56M710.56,1566.80H721.56M761.19,1501.00V1544.30M755.69,1501.00H766.69M755.69,1544.30H766.69M806.32,1535.30V1566.80M800.82,1535.30H811.82M800.82,1566.80H811.82M851.45,1464.00V1509.60M845.95,1464.00H856.95M845.95,1509.60H856.95M896.58,1310.70V1398.90M891.08,1310.70H902.08M891.08,1398.90H902.08M941.71,1448.90V1513.60M936.21,1448.90H947.21M936.21,1513.60H947.21M986.84,1455.40V1539.70M981.34,1455.40H992.34M981.34,1539.70H992.34M1031.97,1350.70V1421.60M1026.47,1350.70H1037.47M1026.47,1421.60H1037.47M1077.10,1145.50V1294.30M1071.60,1145.50H1082.60M1071.60,1294.30H1082.60M1122.23,1592.00V1607.80M1116.73,1592.00H1127.73M1116.73,1607.80H1127.73" stroke="#000" stroke-width="2.2" fill="none" stroke-linecap="round"/>
<polyline points="174.50,1517.30 219.63,1603.60 264.76,1586.20 309.89,1583.00 355.02,1561.50 400.15,1527.30 445.28,1498.50 490.41,1479.50 535.54,1538.70 580.67,1423.20 625.80,1584.90 670.93,1555.70 716.06,1543.70 761.19,1522.60 806.32,1549.70 851.45,1486.50 896.58,1354.60 941.71,1480.50 986.84,1497.50 1031.97,1385.90 1077.10,1219.90 1122.23,1600.00 1126.50,1601.50" stroke="#000" stroke-width="5.0" fill="none" stroke-linejoin="miter" stroke-miterlimit="10" stroke-linecap="round" stroke-dasharray="18 11.1" stroke-dashoffset="1.1"/>
<circle cx="174.50" cy="1517.30" r="4.50" fill="#000"/><circle cx="219.63" cy="1603.60" r="4.50" fill="#000"/><circle cx="264.76" cy="1586.20" r="4.50" fill="#000"/><circle cx="309.89" cy="1583.00" r="4.50" fill="#000"/><circle cx="355.02" cy="1561.50" r="4.50" fill="#000"/><circle cx="400.15" cy="1527.30" r="4.50" fill="#000"/><circle cx="445.28" cy="1498.50" r="4.50" fill="#000"/><circle cx="490.41" cy="1479.50" r="4.50" fill="#000"/><circle cx="535.54" cy="1538.70" r="4.50" fill="#000"/><circle cx="580.67" cy="1423.20" r="4.50" fill="#000"/><circle cx="625.80" cy="1584.90" r="4.50" fill="#000"/><circle cx="670.93" cy="1555.70" r="4.50" fill="#000"/><circle cx="716.06" cy="1543.70" r="4.50" fill="#000"/><circle cx="761.19" cy="1522.60" r="4.50" fill="#000"/><circle cx="806.32" cy="1549.70" r="4.50" fill="#000"/><circle cx="851.45" cy="1486.50" r="4.50" fill="#000"/><circle cx="896.58" cy="1354.60" r="4.50" fill="#000"/><circle cx="941.71" cy="1480.50" r="4.50" fill="#000"/><circle cx="986.84" cy="1497.50" r="4.50" fill="#000"/><circle cx="1031.97" cy="1385.90" r="4.50" fill="#000"/><circle cx="1077.10" cy="1219.90" r="4.50" fill="#000"/><circle cx="1122.23" cy="1600.00" r="4.50" fill="#000"/>
<path d="M174.50,1620.70V1640.80M169.00,1620.70H180.00M169.00,1640.80H180.00M219.63,1617.70V1642.20M214.13,1617.70H225.13M214.13,1642.20H225.13M264.76,1633.70V1648.80M259.26,1633.70H270.26M259.26,1648.80H270.26M309.89,1596.20V1617.00M304.39,1596.20H315.39M304.39,1617.00H315.39M355.02,1615.30V1632.00M349.52,1615.30H360.52M349.52,1632.00H360.52M400.15,1625.00V1634.00M394.65,1625.00H405.65M394.65,1634.00H405.65M445.28,1608.50V1642.10M439.78,1608.50H450.78M439.78,1642.10H450.78M490.41,1585.90V1614.60M484.91,1585.90H495.91M484.91,1614.60H495.91M535.54,1572.80V1608.00M530.04,1572.80H541.04M530.04,1608.00H541.04M580.67,1544.30V1590.90M575.17,1544.30H586.17M575.17,1590.90H586.17M625.80,1630.00V1639.00M620.30,1630.00H631.30M620.30,1639.00H631.30M670.93,1597.90V1614.00M665.43,1597.90H676.43M665.43,1614.00H676.43M716.06,1528.60V1588.90M710.56,1528.60H721.56M710.56,1588.90H721.56M761.19,1500.10V1542.70M755.69,1500.10H766.69M755.69,1542.70H766.69M806.32,1621.00V1631.00M800.82,1621.00H811.82M800.82,1631.00H811.82M851.45,1627.00V1640.00M845.95,1627.00H856.95M845.95,1640.00H856.95M896.58,1592.50V1595.30M891.08,1592.50H902.08M891.08,1595.30H902.08M941.71,1626.00V1638.10M936.21,1626.00H947.21M936.21,1638.10H947.21M986.84,1626.00V1636.00M981.34,1626.00H992.34M981.34,1636.00H992.34M1031.97,1582.50V1585.30M1026.47,1582.50H1037.47M1026.47,1585.30H1037.47M1077.10,1482.30V1609.60M1071.60,1482.30H1082.60M1071.60,1609.60H1082.60M1122.23,1591.00V1611.60M1116.73,1591.00H1127.73M1116.73,1611.60H1127.73" stroke="#0000ff" stroke-width="2.2" fill="none" stroke-linecap="round"/>
<polyline points="174.50,1630.70 219.63,1629.70 264.76,1640.80 309.89,1606.60 355.02,1623.70 400.15,1629.70 445.28,1626.00 490.41,1599.90 535.54,1589.90 580.67,1567.80 625.80,1634.50 670.93,1605.30 716.06,1558.80 761.19,1520.60 806.32,1626.00 851.45,1633.00 896.58,1593.90 941.71,1632.00 986.84,1631.00 1031.97,1583.90 1077.10,1546.00 1122.23,1600.20 1126.50,1601.00" stroke="#0000ff" stroke-width="5.5" fill="none" stroke-linejoin="miter" stroke-miterlimit="10" stroke-linecap="round"/>
<path d="M174.50,1626.10L179.10,1635.30L169.90,1635.30Z" fill="#0000ff"/><path d="M219.63,1625.10L224.23,1634.30L215.03,1634.30Z" fill="#0000ff"/><path d="M264.76,1636.20L269.36,1645.40L260.16,1645.40Z" fill="#0000ff"/><path d="M309.89,1602.00L314.49,1611.20L305.29,1611.20Z" fill="#0000ff"/><path d="M355.02,1619.10L359.62,1628.30L350.42,1628.30Z" fill="#0000ff"/><path d="M400.15,1625.10L404.75,1634.30L395.55,1634.30Z" fill="#0000ff"/><path d="M445.28,1621.40L449.88,1630.60L440.68,1630.60Z" fill="#0000ff"/><path d="M490.41,1595.30L495.01,1604.50L485.81,1604.50Z" fill="#0000ff"/><path d="M535.54,1585.30L540.14,1594.50L530.94,1594.50Z" fill="#0000ff"/><path d="M580.67,1563.20L585.27,1572.40L576.07,1572.40Z" fill="#0000ff"/><path d="M625.80,1629.90L630.40,1639.10L621.20,1639.10Z" fill="#0000ff"/><path d="M670.93,1600.70L675.53,1609.90L666.33,1609.90Z" fill="#0000ff"/><path d="M716.06,1554.20L720.66,1563.40L711.46,1563.40Z" fill="#0000ff"/><path d="M761.19,1516.00L765.79,1525.20L756.59,1525.20Z" fill="#0000ff"/><path d="M806.32,1621.40L810.92,1630.60L801.72,1630.60Z" fill="#0000ff"/><path d="M851.45,1628.40L856.05,1637.60L846.85,1637.60Z" fill="#0000ff"/><path d="M896.58,1589.30L901.18,1598.50L891.98,1598.50Z" fill="#0000ff"/><path d="M941.71,1627.40L946.31,1636.60L937.11,1636.60Z" fill="#0000ff"/><path d="M986.84,1626.40L991.44,1635.60L982.24,1635.60Z" fill="#0000ff"/><path d="M1031.97,1579.30L1036.57,1588.50L1027.37,1588.50Z" fill="#0000ff"/><path d="M1077.10,1541.40L1081.70,1550.60L1072.50,1550.60Z" fill="#0000ff"/><path d="M1122.23,1595.60L1126.83,1604.80L1117.63,1604.80Z" fill="#0000ff"/>
<path d="M174.50,1622.70V1641.80M169.00,1622.70H180.00M169.00,1641.80H180.00M219.63,1652.00V1659.00M214.13,1652.00H225.13M214.13,1659.00H225.13M264.76,1652.00V1659.00M259.26,1652.00H270.26M259.26,1659.00H270.26M309.89,1603.00V1625.10M304.39,1603.00H315.39M304.39,1625.10H315.39M355.02,1620.70V1645.20M349.52,1620.70H360.52M349.52,1645.20H360.52M400.15,1638.00V1646.00M394.65,1638.00H405.65M394.65,1646.00H405.65M445.28,1653.00V1659.00M439.78,1653.00H450.78M439.78,1659.00H450.78M490.41,1641.00V1647.00M484.91,1641.00H495.91M484.91,1647.00H495.91M535.54,1632.00V1646.70M530.04,1632.00H541.04M530.04,1646.70H541.04M580.67,1622.00V1638.10M575.17,1622.00H586.17M575.17,1638.10H586.17M625.80,1641.00V1647.00M620.30,1641.00H631.30M620.30,1647.00H631.30M670.93,1644.70V1654.10M665.43,1644.70H676.43M665.43,1654.10H676.43M716.06,1653.00V1659.00M710.56,1653.00H721.56M710.56,1659.00H721.56M761.19,1603.90V1615.00M755.69,1603.90H766.69M755.69,1615.00H766.69M806.32,1633.00V1646.70M800.82,1633.00H811.82M800.82,1646.70H811.82M851.45,1627.00V1645.10M845.95,1627.00H856.95M845.95,1645.10H856.95M896.58,1639.00V1649.10M891.08,1639.00H902.08M891.08,1649.10H902.08M941.71,1651.00V1657.00M936.21,1651.00H947.21M936.21,1657.00H947.21M986.84,1655.00V1661.00M981.34,1655.00H992.34M981.34,1661.00H992.34M1031.97,1634.00V1646.10M1026.47,1634.00H1037.47M1026.47,1646.10H1037.47M1077.10,1643.00V1649.00M1071.60,1643.00H1082.60M1071.60,1649.00H1082.60M1122.23,1636.50V1649.80M1116.73,1636.50H1127.73M1116.73,1649.80H1127.73" stroke="#1cbb08" stroke-width="2.2" fill="none" stroke-linecap="round"/>
<polyline points="174.50,1631.70 219.63,1655.80 264.76,1655.80 309.89,1612.70 355.02,1632.70 400.15,1642.20 445.28,1656.10 490.41,1644.10 535.54,1639.10 580.67,1630.00 625.80,1644.00 670.93,1649.10 716.06,1656.10 761.19,1610.00 806.32,1640.10 851.45,1636.00 896.58,1644.10 941.71,1654.10 986.84,1658.10 1031.97,1639.00 1077.10,1646.00 1122.23,1643.00 1126.50,1643.00" stroke="#1cbb08" stroke-width="5.6" fill="none" stroke-linejoin="miter" stroke-miterlimit="10" stroke-linecap="round"/>
<path d="M169.90,1627.10L179.10,1627.10L174.50,1636.30Z" fill="#1cbb08"/><path d="M215.03,1651.20L224.23,1651.20L219.63,1660.40Z" fill="#1cbb08"/><path d="M260.16,1651.20L269.36,1651.20L264.76,1660.40Z" fill="#1cbb08"/><path d="M305.29,1608.10L314.49,1608.10L309.89,1617.30Z" fill="#1cbb08"/><path d="M350.42,1628.10L359.62,1628.10L355.02,1637.30Z" fill="#1cbb08"/><path d="M395.55,1637.60L404.75,1637.60L400.15,1646.80Z" fill="#1cbb08"/><path d="M440.68,1651.50L449.88,1651.50L445.28,1660.70Z" fill="#1cbb08"/><path d="M485.81,1639.50L495.01,1639.50L490.41,1648.70Z" fill="#1cbb08"/><path d="M530.94,1634.50L540.14,1634.50L535.54,1643.70Z" fill="#1cbb08"/><path d="M576.07,1625.40L585.27,1625.40L580.67,1634.60Z" fill="#1cbb08"/><path d="M621.20,1639.40L630.40,1639.40L625.80,1648.60Z" fill="#1cbb08"/><path d="M666.33,1644.50L675.53,1644.50L670.93,1653.70Z" fill="#1cbb08"/><path d="M711.46,1651.50L720.66,1651.50L716.06,1660.70Z" fill="#1cbb08"/><path d="M756.59,1605.40L765.79,1605.40L761.19,1614.60Z" fill="#1cbb08"/><path d="M801.72,1635.50L810.92,1635.50L806.32,1644.70Z" fill="#1cbb08"/><path d="M846.85,1631.40L856.05,1631.40L851.45,1640.60Z" fill="#1cbb08"/><path d="M891.98,1639.50L901.18,1639.50L896.58,1648.70Z" fill="#1cbb08"/><path d="M937.11,1649.50L946.31,1649.50L941.71,1658.70Z" fill="#1cbb08"/><path d="M982.24,1653.50L991.44,1653.50L986.84,1662.70Z" fill="#1cbb08"/><path d="M1027.37,1634.40L1036.57,1634.40L1031.97,1643.60Z" fill="#1cbb08"/><path d="M1072.50,1641.40L1081.70,1641.40L1077.10,1650.60Z" fill="#1cbb08"/><path d="M1117.63,1638.40L1126.83,1638.40L1122.23,1647.60Z" fill="#1cbb08"/>
<line x1="169.2" y1="157.9" x2="194.2" y2="157.9" stroke="#ff0000" stroke-width="5.9" stroke-linecap="round"/>
<path d="M181.70,152.00L187.60,163.80L175.80,163.80Z" fill="#ff0000"/>
<line x1="169.2" y1="196.2" x2="194.2" y2="196.2" stroke="#0000ff" stroke-width="5.9" stroke-linecap="round"/>
<rect x="175.90" y="190.40" width="11.60" height="11.60" fill="#0000ff"/>
<line x1="169.2" y1="237.0" x2="194.2" y2="237.0" stroke="#1cbb08" stroke-width="5.9" stroke-linecap="round"/>
<path d="M175.80,231.10L187.60,231.10L181.70,242.90Z" fill="#1cbb08"/>
<line x1="169.2" y1="276.3" x2="186.9" y2="276.3" stroke="#000" stroke-width="5.9" stroke-linecap="round"/>
<circle cx="181.60" cy="276.30" r="5.50" fill="#000"/>
<line x1="197.8" y1="1131.0" x2="222.8" y2="1131.0" stroke="#ff0000" stroke-width="5.7" stroke-linecap="round"/>
<rect x="205.55" y="1126.25" width="9.50" height="9.50" fill="#ff0000"/>
<line x1="195.6" y1="1170.0" x2="220.9" y2="1170.0" stroke="#0000ff" stroke-width="5.7" stroke-linecap="round"/>
<path d="M208.50,1165.40L213.10,1174.60L203.90,1174.60Z" fill="#0000ff"/>
<line x1="196.0" y1="1210.0" x2="221.0" y2="1210.0" stroke="#1cbb08" stroke-width="5.7" stroke-linecap="round"/>
<path d="M203.90,1205.40L213.10,1205.40L208.50,1214.60Z" fill="#1cbb08"/>
<line x1="197.8" y1="1247.2" x2="215.0" y2="1247.2" stroke="#000" stroke-width="5.7" stroke-linecap="round"/>
<circle cx="210.50" cy="1247.20" r="4.40" fill="#000"/>
<text xml:space="preserve" transform="translate(-0.76,24.10) scale(1.0010,1)" font-size="30.38" font-weight="bold" fill="#000">A</text>
<text xml:space="preserve" transform="translate(-0.13,1039.90) scale(0.9743,1)" font-size="30.38" font-weight="bold" fill="#000">B</text>
<text xml:space="preserve" transform="translate(377.34,104.20) scale(0.9353,1)" font-size="55.23" font-weight="bold" fill="#000">Non-nesting females</text>
<text xml:space="preserve" transform="translate(576.43,1084.90) scale(0.9418,1)" font-size="55.09" font-weight="bold" fill="#000">Males</text>
<text xml:space="preserve" transform="translate(585.49,835.10) scale(0.9424,1)" font-size="44.62" font-weight="bold" fill="#000">Date</text>
<text xml:space="preserve" transform="translate(595.15,1829.50) scale(0.9373,1)" font-size="51.89" font-weight="bold" fill="#000">Date</text>
<text xml:space="preserve" transform="translate(39.80,564.25) rotate(-90) scale(0.9111,1)" font-size="45.06" font-weight="bold">P4, E2, T [pg/ml]</text>
<text xml:space="preserve" transform="translate(1256.10,523.89) rotate(-90) scale(0.9246,1)" font-size="45.06" font-weight="bold">FSH [ng/ml]</text>
<text xml:space="preserve" transform="translate(40.00,1524.23) rotate(-90) scale(0.8918,1)" font-size="45.78" font-weight="bold">P4, E2  [pg/ml]</text>
<text xml:space="preserve" transform="translate(1283.80,1522.54) rotate(-90) scale(0.9102,1)" font-size="45.06" font-weight="bold">FSH, T [ng/ml]</text>
<text xml:space="preserve" transform="translate(207.43,170.10) scale(1.0074,1)" font-size="33.58" font-weight="normal" fill="#000">Progesterone</text>
<text xml:space="preserve" transform="translate(207.43,207.30) scale(1.0165,1)" font-size="33.26" font-weight="normal" fill="#000">Estradiol</text>
<text xml:space="preserve" transform="translate(208.46,248.40) scale(0.9386,1)" font-size="35.03" font-weight="normal" fill="#000">Testosterone</text>
<text xml:space="preserve" transform="translate(207.33,288.20) scale(0.9882,1)" font-size="35.38" font-weight="normal" fill="#000">FSH</text>
<text xml:space="preserve" transform="translate(235.43,1142.10) scale(1.0074,1)" font-size="33.58" font-weight="normal" fill="#000">Progesterone</text>
<text xml:space="preserve" transform="translate(233.40,1181.30) scale(1.0245,1)" font-size="33.26" font-weight="normal" fill="#000">Estradiol</text>
<text xml:space="preserve" transform="translate(235.46,1220.40) scale(0.9793,1)" font-size="33.58" font-weight="normal" fill="#000">Testosterone</text>
<text xml:space="preserve" transform="translate(235.96,1258.60) scale(1.0468,1)" font-size="33.09" font-weight="normal" fill="#000">FSH</text>
</svg></body></html>
